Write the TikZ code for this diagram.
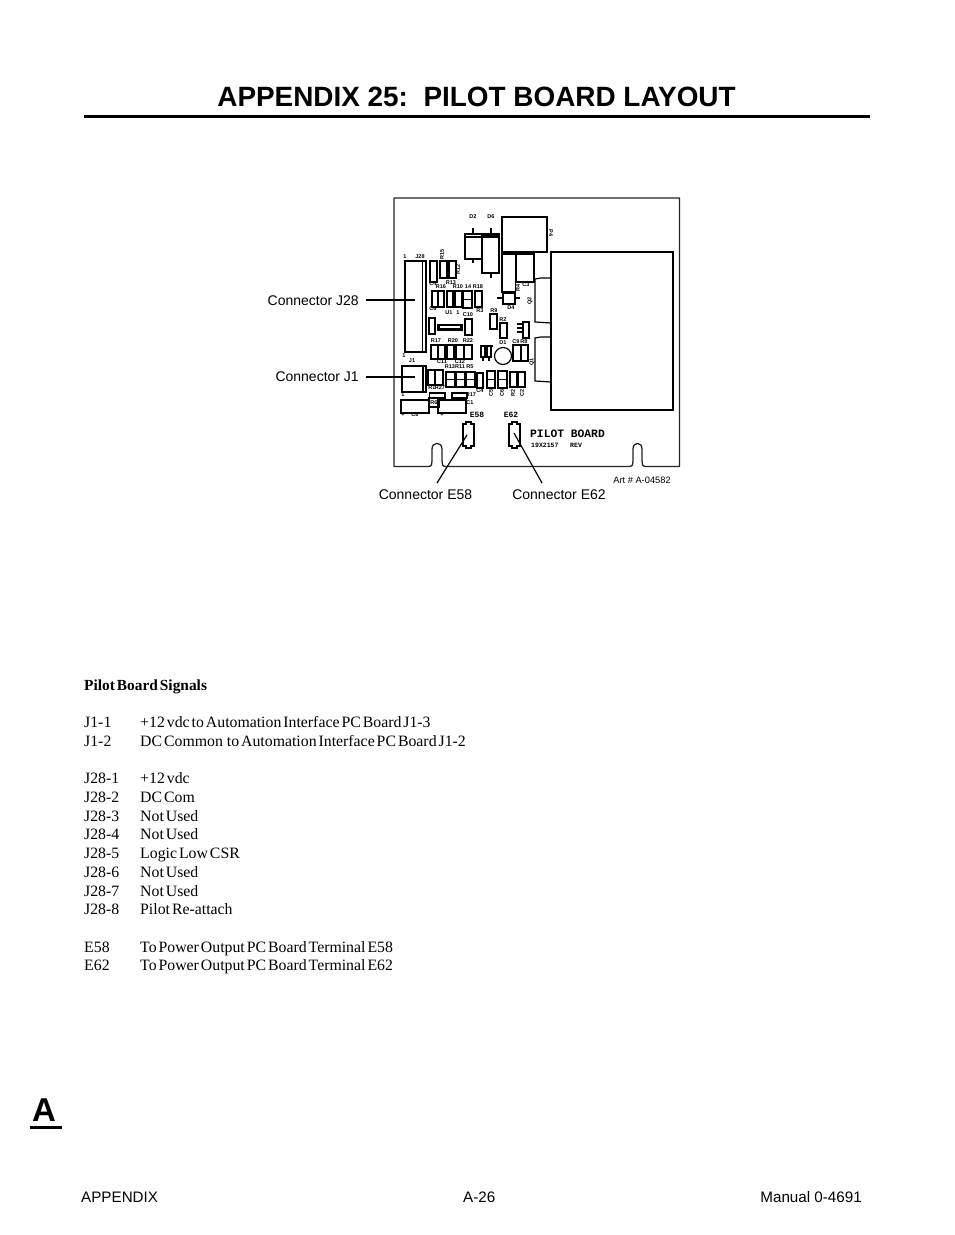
\documentclass[tikz,border=0pt]{standalone}
\usepackage{fontspec}
\setmainfont{Liberation Sans}
\newfontfamily\bodyfont[WordSpace=0.5]{Liberation Serif}
\newfontfamily\boardfont{Liberation Mono}
\tikzset{
  part/.style={draw=black,line width=1.2pt},
  heavy/.style={draw=black,line width=2.4pt},
  edge/.style={draw=black!85,line width=1.3pt,line join=round},
  leader/.style={draw=black,line width=1.2pt},
  tiny/.style={inner sep=0pt,font=\fontsize{5.5}{5.5}\selectfont\bfseries},
  silk/.style={inner sep=0pt,font=\boardfont\bfseries},
  callout/.style={inner sep=0pt,font=\fontsize{14}{14}\selectfont},
  foot/.style={inner sep=0pt,anchor=base west,font=\fontsize{15.2}{15.2}\selectfont},
  body/.style={inner sep=0pt,anchor=base west,font=\bodyfont\fontsize{15.8}{15.8}\selectfont},
}
\newcommand\rc[4]{\draw[part] (#1,#2) rectangle (#3,#4);}
\newcommand\rcm[4]{\draw[part] (#1,#2) rectangle (#3,#4); \draw[part] (#1,{(#2+#4)/2}) -- (#3,{(#2+#4)/2});}
\newcommand\tl[4][0]{\node[tiny,rotate=#1] (l#2-#3) at (#2,#3) {#4};}
\newcommand\etab[2]{\draw[part] (#1,#2+2) -- (#1+3,#2+2) -- (#1+3,#2) -- (#1+8,#2) -- (#1+8,#2+2) -- (#1+11,#2+2) -- (#1+11,#2+24) -- (#1+8,#2+24) -- (#1+8,#2+26) -- (#1+3,#2+26) -- (#1+3,#2+24) -- (#1,#2+24) -- cycle;}
\begin{document}
\begin{tikzpicture}[x=1pt,y=-1pt]
\fill[white] (0,0) rectangle (954,1235);
\useasboundingbox (0,0) rectangle (954,1235);
% title
\node[inner sep=0pt,anchor=base,font=\fontsize{27.9}{27.9}\selectfont\bfseries] (title) at (476.5,106) {APPENDIX 25:\ \ PILOT BOARD LAYOUT};
\coordinate (ruleL) at (84,116.5); \coordinate (ruleR) at (870,116.5);
\draw[black,line width=3pt] (ruleL) -- (ruleR);
% board outline
\draw[edge] (394,466.5) -- (394,198) -- (679.5,198) -- (679.5,466.5) -- (646,466.5)
  .. controls (642,466.5) and (642,464) .. (642,461) -- (642,449)
  .. controls (642,441.5) and (633,441.5) .. (633,449) -- (633,461)
  .. controls (633,464) and (633,466.5) .. (629,466.5) -- (446,466.5)
  .. controls (442,466.5) and (442,464) .. (442,461) -- (442,449)
  .. controls (442,441.5) and (432,441.5) .. (432,449) -- (432,461)
  .. controls (432,464) and (432,466.5) .. (428,466.5) -- cycle;
% large block and bumps
\rc{551}{252}{673}{410}
\draw[part] (551,278) -- (541,278) -- (535,279) -- (535,322) -- (551,323);
\draw[part] (551,337) -- (541,337) -- (535,338) -- (535,381) -- (551,382);
% top right group
\draw[part,line width=1.6pt] (502,217) rectangle (547,252);
\draw[heavy] (502,253) -- (534,253);
\rc{516}{254}{534}{282}
\rc{502}{254}{515.5}{292}
\draw[heavy] (503,292.5) rectangle (515,304);
\draw[part] (497,298) -- (503,298) (515,298) -- (520,298);
% D2 D6
\rc{465}{234}{482}{259}
\draw[part] (465,237) -- (482,237);
\draw[part] (473,228) -- (473,234) (473,259) -- (473,263);
\draw[part,line width=1.6pt] (482,234) rectangle (499,273);
\fill[black] (482,234) rectangle (499,238);
\draw[part] (491,228) -- (491,234) (491,273) -- (491,278);
% J28
\draw[part] (405,261) rectangle (426,352);
\draw[part] (422.5,261) -- (422.5,352);
% J1
\draw[part,line width=1.6pt] (402,366) rectangle (426,392);
\draw[part] (423,366) -- (423,392);
% upper columns
\rc{430}{261}{437}{282}
\rc{440}{261}{447}{278}
\rc{449}{261}{456}{278}
\rc{432}{291}{438}{307}
\rc{438}{291}{444}{307}
\rc{447}{291}{453}{307}
\rc{455}{291}{462}{307}
\rcm{463}{291}{472}{308}
\rc{475}{291}{482}{307}
\rc{429}{318}{435}{334}
\draw[heavy] (438.5,325) rectangle (461.5,329.5);
\rc{465}{319}{472}{335}
\rc{490}{314}{497}{329}
\rc{500}{323}{507}{338}
\rc{523}{322}{529}{338}
\draw[part] (517,324) -- (523,324) (517,328) -- (523,328) (517,332) -- (523,332);
% middle row
\rc{431}{345}{438}{359}
\rc{438}{345}{445}{359}
\rc{447}{345}{454}{359}
\rc{456}{345}{464}{359}
\rc{464}{345}{472}{359}
\draw[heavy] (481,346) -- (493,346);
\rc{481}{346}{485}{357}
\rc{487}{346}{491}{357}
\draw[part] (483,357) -- (483,361) (489,357) -- (489,361);
\draw[part] (503,356) circle (8.5);
\rc{513}{345}{521}{361}
\rc{521}{345}{528}{361}
% lower row
\rc{428}{370}{435}{385}
\rc{435}{370}{443}{385}
\rcm{446}{372}{455}{387}
\rcm{456}{372}{465}{387}
\rcm{466}{372}{475}{387}
\rc{477}{373}{483}{388}
\rcm{487}{371}{495}{388}
\rcm{498}{371}{507}{388}
\rc{510}{372}{517}{387}
\rc{518}{372}{525}{387}
\draw[part,line width=1.6pt] (429.5,393) rectangle (445,398);
\draw[part,line width=1.6pt] (452,393) rectangle (467,398);
\rc{401}{400}{429}{413}
\rc{438}{400}{466}{413}
\rc{429}{398}{439}{407}
\etab{463}{422}
\etab{509}{422}
% silk text
\node[silk,font=\boardfont\bfseries\fontsize{11.3}{11.3}\selectfont,anchor=base west] (pilot) at (530,437) {PILOT BOARD};
\node[silk,font=\boardfont\bfseries\fontsize{6.5}{6.5}\selectfont,anchor=base west] (pn) at (531,447.5) {19X2157};
\node[silk,font=\boardfont\bfseries\fontsize{6.5}{6.5}\selectfont,anchor=base west] (rev) at (570,447.5) {REV};
\node[silk,font=\boardfont\bfseries\fontsize{8}{8}\selectfont] (e58t) at (477,415) {E58};
\node[silk,font=\boardfont\bfseries\fontsize{8}{8}\selectfont] (e62t) at (511,415) {E62};
% tiny labels
\tl{473}{217}{D2}\tl{491}{217}{D6}\tl[-90]{551}{233}{P4}\tl{420}{257}{J28}\tl{405}{257}{1}
\tl[90]{442}{254}{R15}\tl[90]{458}{269}{R12}\tl{433}{284}{C4}\tl{451}{283}{R13}
\tl{441}{287}{R16}\tl{458}{287}{R10}\tl{468}{287}{14}\tl{478}{287}{R18}\tl{433}{309}{C6}
\tl{449}{313}{U1}\tl{458}{313}{1}\tl{468}{315}{C10}\tl{480}{311}{R3}\tl{494}{311}{R9}\tl{503}{320}{R2}
\tl{511}{308}{D4}\tl{526}{285}{C3}\tl[90]{518}{288}{R4}\tl[90]{530}{301}{Q2}
\tl{436}{341}{R17}\tl{453}{341}{R20}\tl{468}{341}{R22}\tl{442}{362}{C11}\tl{460}{362}{C12}
\tl{503}{343}{D1}\tl{516}{342}{C9}\tl{524}{342}{R8}\tl[90]{532}{362}{Q1}\tl{404}{356}{1}\tl{412}{361}{J1}
\tl{450}{367}{R13}\tl{460}{367}{R11}\tl{470}{367}{R5}\tl{432}{388}{R1}\tl{440}{388}{R27}\tl{480}{391}{C4}
\tl[90]{491}{393}{C5}\tl[90]{502}{393}{C6}\tl[90]{513}{393}{R2}\tl[90]{522}{393}{C2}
\tl{403}{395}{1}\tl{471}{395}{R17}\tl{470}{403}{C1}\tl{434}{403}{R6}
\tl{403}{415}{+}\tl{415}{415}{C8}\tl{442}{415}{+}
% callouts
\node[callout,anchor=east,inner xsep=7pt] (cJ28) at (366,301) {Connector J28};
\node[callout,anchor=east,inner xsep=7pt] (cJ1) at (366,377) {Connector J1};
\node[callout] (cE58) at (425.5,494.5) {Connector E58};
\node[callout] (cE62) at (559,494.5) {Connector E62};
\node[inner sep=0pt,font=\fontsize{9.3}{9.3}\selectfont] (art) at (642,480) {Art \# A-04582};
\coordinate (pJ28) at (415,300); \coordinate (pJ1) at (415,377);
\coordinate (pE58) at (467,435); \coordinate (eE58) at (437,483);
\coordinate (pE62) at (514,433); \coordinate (eE62) at (542,483);
\draw[leader] (cJ28.east |- pJ28) -- (pJ28);
\draw[leader] (cJ1.east) -- (pJ1);
\draw[leader] (pE58) -- (eE58);
\draw[leader] (pE62) -- (eE62);
% body
\node[body,font=\bodyfont\bfseries\fontsize{15.4}{15.4}\selectfont] (h) at (84,690) {Pilot Board Signals};
\node[body] (a1) at (84,727) {J1-1}; \node[body] (b1) at (140,727) {+12 vdc to Automation Interface PC Board J1-3};
\node[body] (a2) at (84,746) {J1-2}; \node[body] (b2) at (140,746) {DC Common\ \ to Automation Interface PC Board J1-2};
\node[body] (a3) at (84,783) {J28-1}; \node[body] (b3) at (140,783) {+12 vdc};
\node[body] (a4) at (84,802) {J28-2}; \node[body] (b4) at (140,802) {DC Com};
\node[body] (a5) at (84,821) {J28-3}; \node[body] (b5) at (140,821) {Not Used};
\node[body] (a6) at (84,839) {J28-4}; \node[body] (b6) at (140,839) {Not Used};
\node[body] (a7) at (84,858) {J28-5}; \node[body] (b7) at (140,858) {Logic Low CSR};
\node[body] (a8) at (84,877) {J28-6}; \node[body] (b8) at (140,877) {Not Used};
\node[body] (a9) at (84,896) {J28-7}; \node[body] (b9) at (140,896) {Not Used};
\node[body] (a10) at (84,914) {J28-8}; \node[body] (b10) at (140,914) {Pilot Re-attach};
\node[body] (a11) at (84,952) {E58}; \node[body] (b11) at (140,952) {To Power Output PC Board Terminal E58};
\node[body] (a12) at (84,970) {E62}; \node[body] (b12) at (140,970) {To Power Output PC Board Terminal E62};
% tab letter
\node[inner sep=0pt,anchor=base,font=\fontsize{33}{33}\selectfont\bfseries] (tab) at (44,1121) {A};
\coordinate (tabL) at (30,1127.5); \coordinate (tabR) at (62,1127.5);
\draw[black,line width=3pt] (tabL) -- (tabR);
% footer
\node[foot] (f1) at (81,1202) {APPENDIX};
\node[foot] (f2) at (463,1202) {A-26};
\node[foot,anchor=base east] (f3) at (862,1202) {Manual 0-4691};
\end{tikzpicture}
\end{document}
